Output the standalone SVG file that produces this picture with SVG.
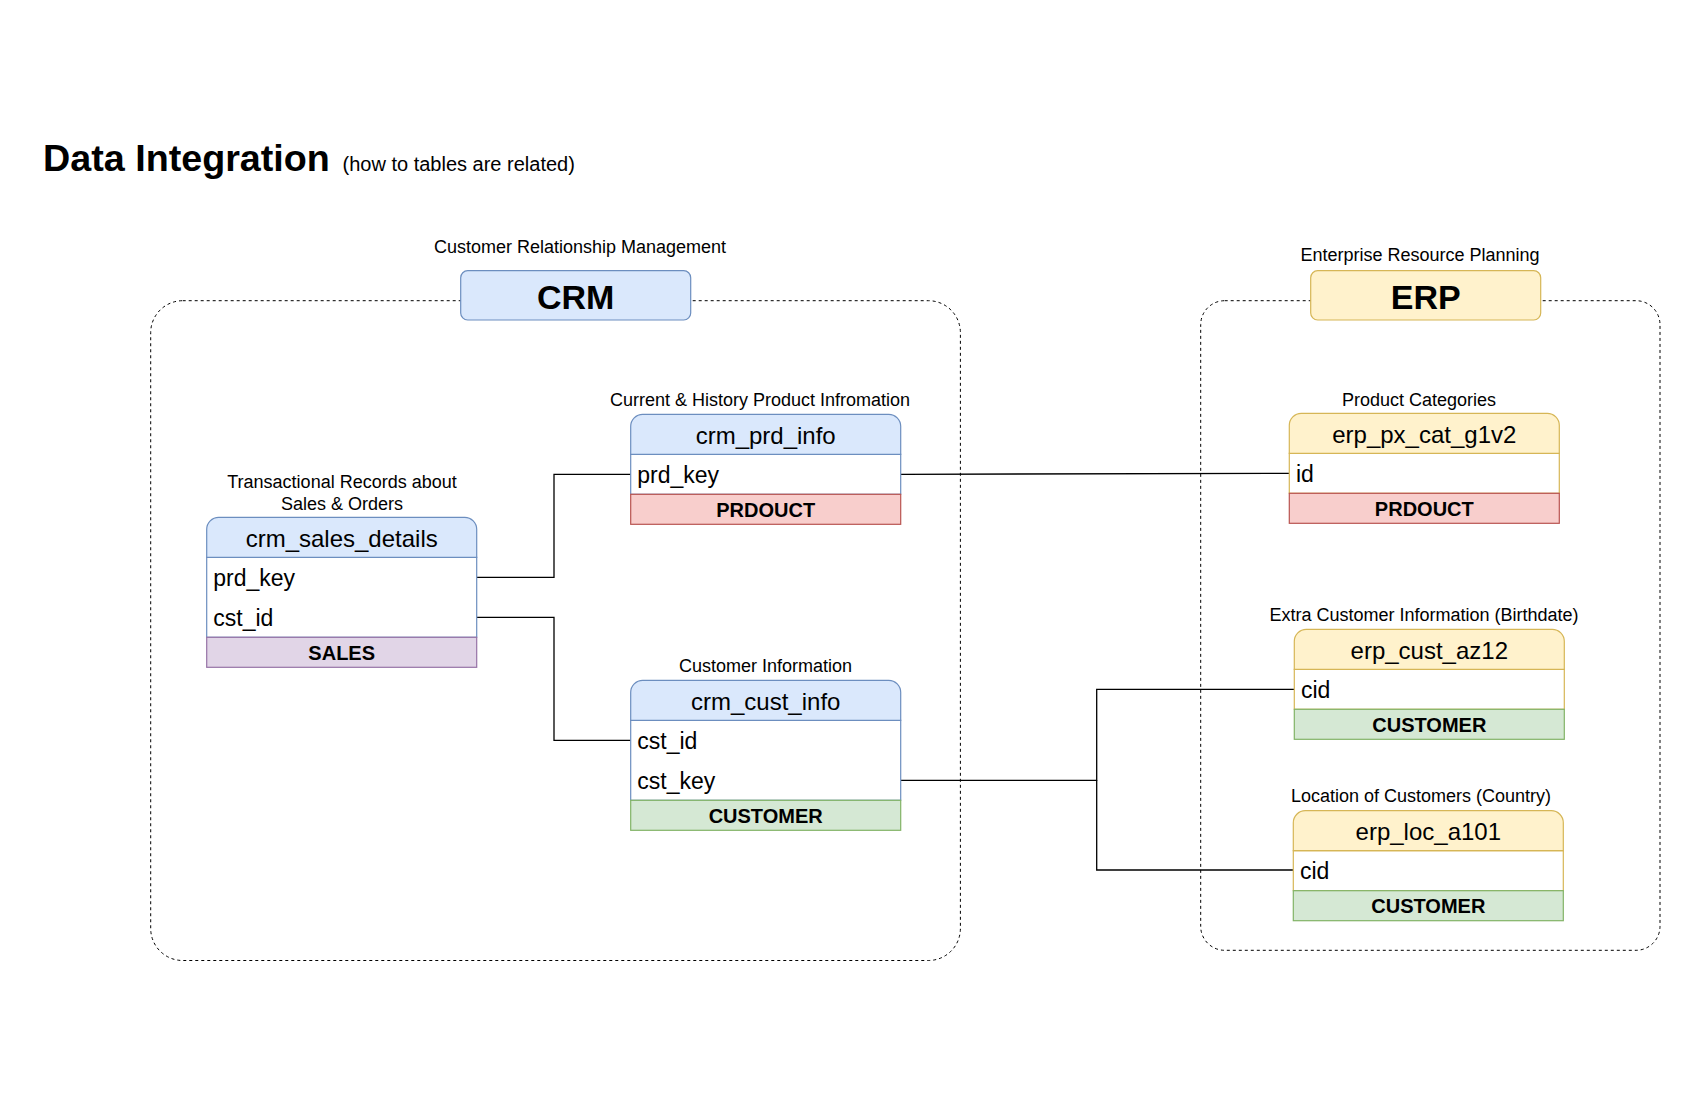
<svg xmlns="http://www.w3.org/2000/svg" width="1700" height="1100" viewBox="0 0 1700 1100">
<style>
text{font-family:"Liberation Sans",Arial,sans-serif;fill:#000}
.lbl{font-size:18px;text-anchor:middle}
.hd{font-size:24px;text-anchor:middle}
.row{font-size:23px}
.ft{font-size:20px;font-weight:bold;text-anchor:middle}
.cont{fill:none;stroke:#000;stroke-width:1;stroke-dasharray:3 3}
.conn{fill:none;stroke:#000;stroke-width:1.3}
.hb{fill:#dae8fc;stroke:#6c8ebf;stroke-width:1.2}
.bb{fill:#fff;stroke:#6c8ebf;stroke-width:1.2}
.hy{fill:#fff2cc;stroke:#d6b656;stroke-width:1.2}
.by{fill:#fff;stroke:#d6b656;stroke-width:1.2}
.fr{fill:#f8cecc;stroke:#b85450;stroke-width:1.2}
.fg{fill:#d5e8d4;stroke:#82b366;stroke-width:1.2}
.fp{fill:#e1d5e7;stroke:#9673a6;stroke-width:1.2}
</style>
<rect width="1700" height="1100" fill="#fff"/>
<g id="title">
<text x="43" y="171" style="font-size:37.7px;font-weight:bold">Data Integration</text>
<text x="342.5" y="171" style="font-size:20px">(how to tables are related)</text>
</g>
<g id="crm-container">
<rect class="cont" x="150.7" y="300.7" width="809.7" height="659.8" rx="32"/>
<text class="lbl" x="580" y="253">Customer Relationship Management</text>
<rect class="hb" x="460.7" y="270.7" width="230" height="49.3" rx="7"/>
<text x="575.7" y="309.3" style="font-size:34px;font-weight:bold;text-anchor:middle">CRM</text>
</g>
<g id="erp-container">
<rect class="cont" x="1200.7" y="300.7" width="459.3" height="649.6" rx="24"/>
<text class="lbl" x="1420" y="260.7">Enterprise Resource Planning</text>
<rect class="hy" x="1310.7" y="270.7" width="230" height="49.3" rx="7"/>
<text x="1425.7" y="309.3" style="font-size:34px;font-weight:bold;text-anchor:middle">ERP</text>
</g>
<g id="connectors">
<polyline class="conn" points="476.7,577.3 554,577.3 554,474.3 630.7,474.3"/>
<polyline class="conn" points="476.7,617.3 554,617.3 554,740.3 630.7,740.3"/>
<polyline class="conn" points="900.7,474.3 1289.3,473.3"/>
<polyline class="conn" points="900.7,780.3 1096.7,780.3 1096.7,689.3 1294.3,689.3"/>
<polyline class="conn" points="1096.7,780.3 1096.7,870 1293.3,870"/>
</g>
<g id="crm_sales_details">
<text class="lbl" x="342" y="488">Transactional Records about</text>
<text class="lbl" x="342" y="510">Sales &amp; Orders</text>
<rect class="bb" x="206.7" y="557.3" width="270" height="80"/>
<path class="hb" d="M206.7,557.3 V529.3 A12,12 0 0 1 218.7,517.3 H464.7 A12,12 0 0 1 476.7,529.3 V557.3 Z"/>
<rect class="fp" x="206.7" y="637.3" width="270" height="30"/>
<text class="hd" x="341.7" y="546.7">crm_sales_details</text>
<text class="row" x="213.3" y="585.7">prd_key</text>
<text class="row" x="213.3" y="625.5">cst_id</text>
<text class="ft" x="341.7" y="660">SALES</text>
</g>
<g id="crm_prd_info">
<text class="lbl" x="760" y="405.5">Current &amp; History Product Infromation</text>
<rect class="bb" x="630.7" y="454.3" width="270" height="40"/>
<path class="hb" d="M630.7,454.3 V426.3 A12,12 0 0 1 642.7,414.3 H888.7 A12,12 0 0 1 900.7,426.3 V454.3 Z"/>
<rect class="fr" x="630.7" y="494.3" width="270" height="30"/>
<text class="hd" x="765.7" y="443.7">crm_prd_info</text>
<text class="row" x="637.3" y="482.9">prd_key</text>
<text class="ft" x="765.7" y="517">PRDOUCT</text>
</g>
<g id="crm_cust_info">
<text class="lbl" x="765.5" y="672">Customer Information</text>
<rect class="bb" x="630.7" y="720.3" width="270" height="80"/>
<path class="hb" d="M630.7,720.3 V692.3 A12,12 0 0 1 642.7,680.3 H888.7 A12,12 0 0 1 900.7,692.3 V720.3 Z"/>
<rect class="fg" x="630.7" y="800.3" width="270" height="30"/>
<text class="hd" x="765.7" y="709.7">crm_cust_info</text>
<text class="row" x="637.3" y="748.9">cst_id</text>
<text class="row" x="637.3" y="788.9">cst_key</text>
<text class="ft" x="765.7" y="823">CUSTOMER</text>
</g>
<g id="erp_px_cat_g1v2">
<text class="lbl" x="1419" y="405.5">Product Categories</text>
<rect class="by" x="1289.3" y="453.3" width="270" height="40"/>
<path class="hy" d="M1289.3,453.3 V425.3 A12,12 0 0 1 1301.3,413.3 H1547.3 A12,12 0 0 1 1559.3,425.3 V453.3 Z"/>
<rect class="fr" x="1289.3" y="493.3" width="270" height="30"/>
<text class="hd" x="1424.3" y="442.7">erp_px_cat_g1v2</text>
<text class="row" x="1295.9" y="481.9">id</text>
<text class="ft" x="1424.3" y="516">PRDOUCT</text>
</g>
<g id="erp_cust_az12">
<text class="lbl" x="1424" y="620.5">Extra Customer Information (Birthdate)</text>
<rect class="by" x="1294.3" y="669.3" width="270" height="40"/>
<path class="hy" d="M1294.3,669.3 V641.3 A12,12 0 0 1 1306.3,629.3 H1552.3 A12,12 0 0 1 1564.3,641.3 V669.3 Z"/>
<rect class="fg" x="1294.3" y="709.3" width="270" height="30"/>
<text class="hd" x="1429.3" y="658.7">erp_cust_az12</text>
<text class="row" x="1300.9" y="697.9">cid</text>
<text class="ft" x="1429.3" y="732">CUSTOMER</text>
</g>
<g id="erp_loc_a101">
<text class="lbl" x="1421" y="802">Location of Customers (Country)</text>
<rect class="by" x="1293.3" y="850.7" width="270" height="40"/>
<path class="hy" d="M1293.3,850.7 V822.7 A12,12 0 0 1 1305.3,810.7 H1551.3 A12,12 0 0 1 1563.3,822.7 V850.7 Z"/>
<rect class="fg" x="1293.3" y="890.7" width="270" height="30"/>
<text class="hd" x="1428.3" y="840.1">erp_loc_a101</text>
<text class="row" x="1299.9" y="879.3">cid</text>
<text class="ft" x="1428.3" y="913.4">CUSTOMER</text>
</g>
</svg>
